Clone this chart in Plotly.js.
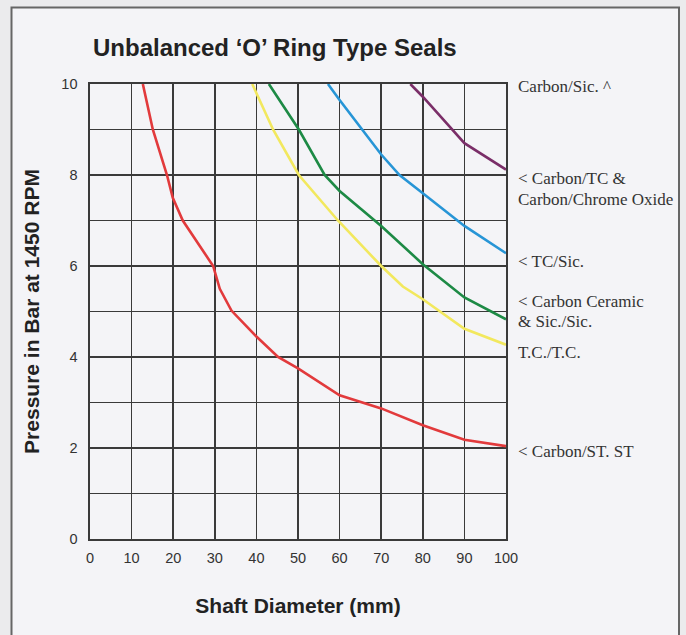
<!DOCTYPE html>
<html>
<head>
<meta charset="utf-8">
<script src="https://cdn.plot.ly/plotly-3.0.1.min.js"></script>
<style>html,body{margin:0;padding:0;background:#ebebed;}#chart{width:686px;height:635px;}</style>
</head>
<body>
<div id="chart"></div>
<script>
// Shaft diameter (mm) vs pressure (bar) per seal face combination
const redX    = [12.7, 15.1, 18.5, 19.9, 22.3, 26.0, 29.6, 31.2, 34.0, 40, 45.2, 50, 60, 70, 80, 90, 100];
const redY    = [10, 9, 8, 7.5, 7, 6.5, 6, 5.5, 5.02, 4.45, 4.0, 3.75, 3.16, 2.87, 2.5, 2.18, 2.04];
const yellowX = [39, 44, 50.2, 59.6, 70, 75.2, 80, 90, 100];
const yellowY = [10, 9, 8, 7, 6, 5.55, 5.27, 4.62, 4.27];
const greenX  = [43, 50.2, 56.4, 60, 70, 80, 90, 100];
const greenY  = [10, 9, 8, 7.65, 6.88, 6.04, 5.31, 4.83];
const blueX   = [57.2, 60, 70, 74.4, 80, 90, 100];
const blueY   = [10, 9.65, 8.45, 8, 7.6, 6.88, 6.28];
const purpleX = [77, 80, 85, 90, 100];
const purpleY = [10, 9.72, 9.21, 8.7, 8.12];

const labelText = ["Carbon/Sic. ^", "< Carbon/TC &", "Carbon/Chrome Oxide", "< TC/Sic.",
                   "< Carbon Ceramic", "& Sic./Sic.", "T.C./T.C.", "< Carbon/ST. ST"];
const labelY = [9.95, 7.93, 7.47, 6.09, 5.23, 4.77, 4.11, 1.93];

const xTicks = [0, 10, 20, 30, 40, 50, 60, 70, 80, 90, 100];
const yTicks = [0, 2, 4, 6, 8, 10];

function line(x, y, color) {
  return {x: x, y: y, type: 'scatter', mode: 'lines', line: {color: color, width: 2.6}, hoverinfo: 'skip', cliponaxis: true};
}

const traces = [
  line(redX, redY, '#e23a3c'),
  line(yellowX, yellowY, '#f2e85e'),
  line(greenX, greenY, '#1d8a45'),
  line(blueX, blueY, '#2795d6'),
  line(purpleX, purpleY, '#7a2e68')
];

const gridColor = '#3a3a3a';
const annotations = labelText.map((t, i) => ({
  text: t, xref: 'paper', yref: 'y', x: (516 - 90) / 416, y: labelY[i],
  xanchor: 'left', yanchor: 'middle', showarrow: false,
  font: {family: 'Liberation Serif, Times New Roman, serif', size: 17, color: '#333'}
}));

const layout = {
  width: 686, height: 635,
  margin: {l: 90, r: 180, t: 84, b: 96},
  paper_bgcolor: '#ebebed',
  plot_bgcolor: '#f4f4f7',
  showlegend: false,
  font: {family: 'Liberation Sans, Arial, sans-serif', color: '#333'},
  title: {
    text: 'Unbalanced \u2018O\u2019 Ring Type Seals',
    font: {family: 'Liberation Sans, Arial, sans-serif', size: 24, color: '#222', weight: 'bold'},
    x: 93 / 686, xanchor: 'left', xref: 'container', y: 1 - 48 / 635, yanchor: 'middle', yref: 'container'
  },
  xaxis: {
    range: [0, 100], tickvals: xTicks, ticktext: xTicks.map(String),
    showgrid: true, gridcolor: gridColor, gridwidth: 1.6,
    showline: true, linecolor: gridColor, linewidth: 1.6, mirror: true,
    zeroline: false, ticks: 'outside', ticklen: 5, tickcolor: 'rgba(0,0,0,0)',
    tickfont: {size: 14.5, color: '#333'}, fixedrange: true,
    title: {text: 'Shaft Diameter (mm)', font: {size: 21, color: '#222', weight: 'bold'}, standoff: 33}
  },
  yaxis: {
    range: [0, 10], tickvals: yTicks, ticktext: yTicks.map(String),
    showgrid: true, gridcolor: gridColor, gridwidth: 1.6,
    minor: {dtick: 1, tick0: 0, showgrid: true, gridcolor: gridColor, gridwidth: 1.6},
    showline: true, linecolor: gridColor, linewidth: 1.6, mirror: true,
    zeroline: false, ticks: 'outside', ticklen: 8, tickcolor: 'rgba(0,0,0,0)',
    tickfont: {size: 14.5, color: '#333'}, fixedrange: true,
    title: {text: 'Pressure in Bar at 1450 RPM', font: {size: 21, color: '#222', weight: 'bold'}, standoff: 16}
  },
  shapes: [{
    type: 'rect', xref: 'paper', yref: 'paper', layer: 'below',
    x0: (11.5 - 90) / 416, x1: (679 - 90) / 416,
    y0: (539 - 660) / 455, y1: (539 - 7.5) / 455,
    fillcolor: '#f4f4f7', line: {color: '#666', width: 2}
  }],
  annotations: annotations
};

Plotly.newPlot('chart', traces, layout, {displayModeBar: false, staticPlot: true});
</script>
</body>
</html>
